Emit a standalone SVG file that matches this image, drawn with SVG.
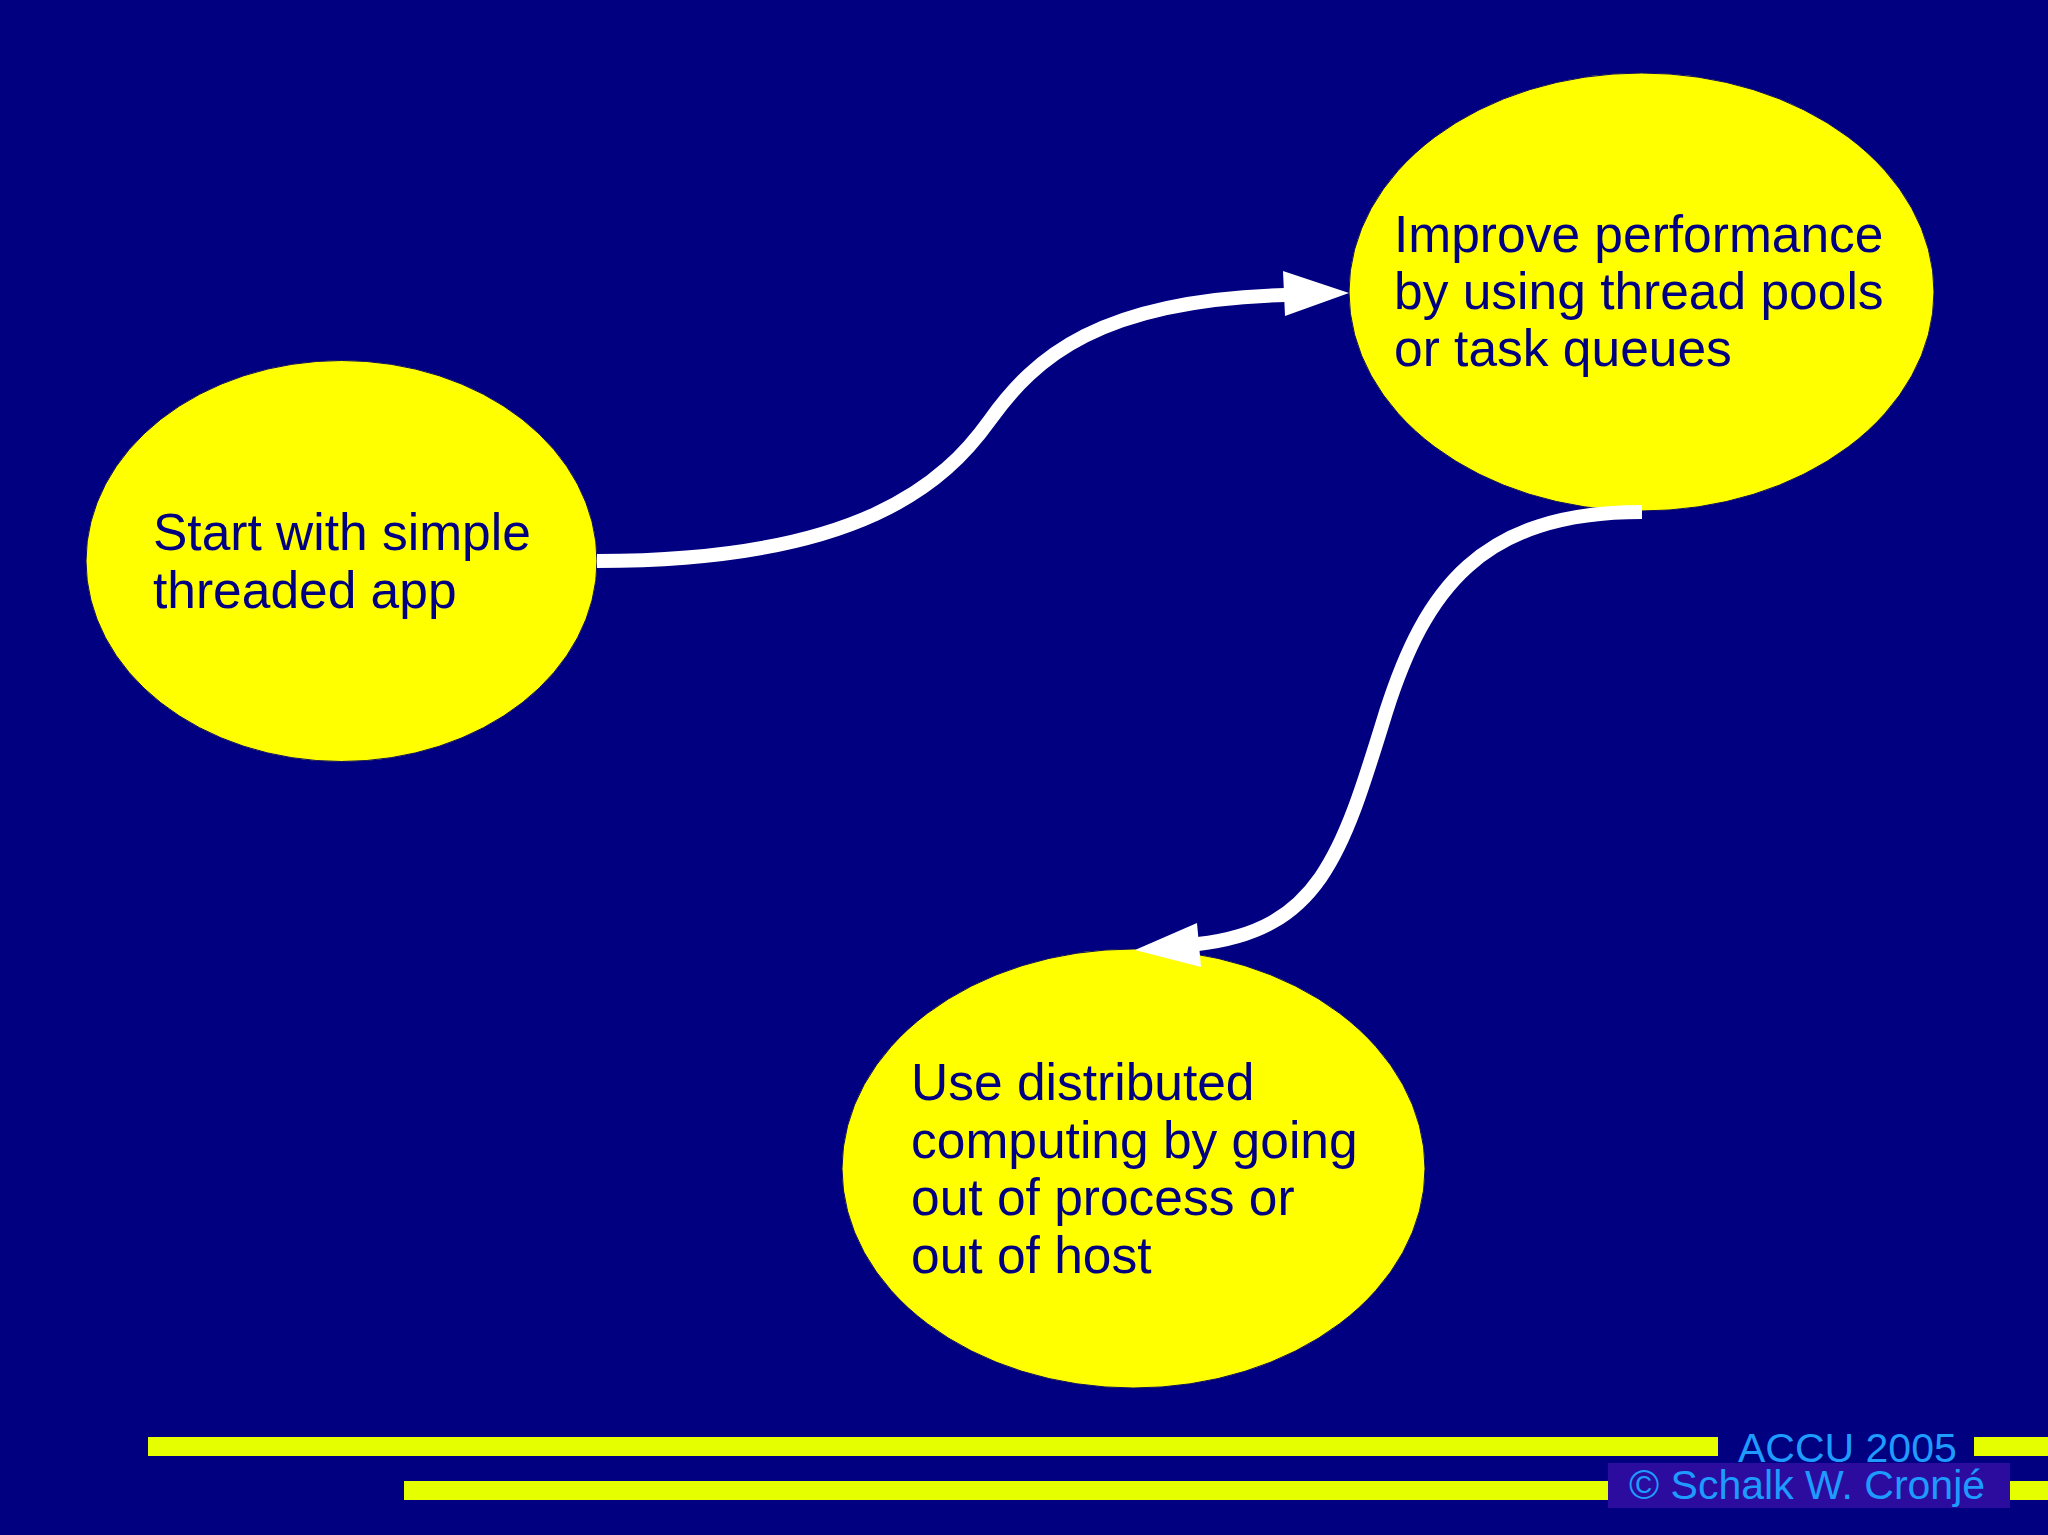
<svg xmlns="http://www.w3.org/2000/svg" width="2048" height="1535" viewBox="0 0 2048 1535">
<style>
.node{fill:#ffff00;stroke:#101060;stroke-width:1}
.lbl{font-family:"Liberation Sans",Arial,sans-serif;font-size:51.5px;fill:#000080}
.conn{fill:none;stroke:#ffffff;stroke-width:14}
.head{fill:#ffffff}
.bar{fill:#e6ff00}
.foot{font-family:"Liberation Sans",Arial,sans-serif;font-size:41px;fill:#1e9bff}
</style>
<rect x="0" y="0" width="2048" height="1535" fill="#000080"/>
<g id="node-start">
<ellipse class="node" cx="341.5" cy="561" rx="255.5" ry="200.5"/>
<text class="lbl"><tspan x="153" y="550">Start with simple</tspan><tspan x="153" y="607.5">threaded app</tspan></text>
</g>
<g id="node-improve">
<ellipse class="node" cx="1641.5" cy="292" rx="292.5" ry="219"/>
<text class="lbl"><tspan x="1394" y="252">Improve performance</tspan><tspan x="1394" y="309">by using thread pools</tspan><tspan x="1394" y="366">or task queues</tspan></text>
</g>
<g id="node-distributed">
<ellipse class="node" cx="1133.5" cy="1168.5" rx="291.5" ry="219.5"/>
<text class="lbl"><tspan x="911" y="1100">Use distributed</tspan><tspan x="911" y="1157.5">computing by going</tspan><tspan x="911" y="1215">out of process or</tspan><tspan x="911" y="1272.5">out of host</tspan></text>
</g>
<g id="connectors">
<path class="conn" d="M597,561 C860,561 945,483 990,420 C1035,357 1100,300 1285,295"/>
<polygon class="head" points="1349,293 1283,271 1285,316"/>
<path class="conn" d="M1642,512 C1480,512 1425,590 1386,712 C1342,855 1320,930 1198,944"/>
<polygon class="head" points="1135,950 1197,923 1201,967"/>
</g>
<g id="footer">
<rect class="bar" x="148" y="1437" width="1570" height="19"/>
<rect class="bar" x="1974" y="1437" width="74" height="19"/>
<rect class="bar" x="404" y="1481" width="1205" height="19"/>
<rect x="1608" y="1463" width="402" height="45" fill="#2b0c9e"/>
<rect class="bar" x="2010" y="1481" width="38" height="19"/>
<text class="foot" x="1738" y="1462">ACCU 2005</text>
<text class="foot" x="1629" y="1499">© Schalk W. Cronjé</text>
</g>
</svg>
